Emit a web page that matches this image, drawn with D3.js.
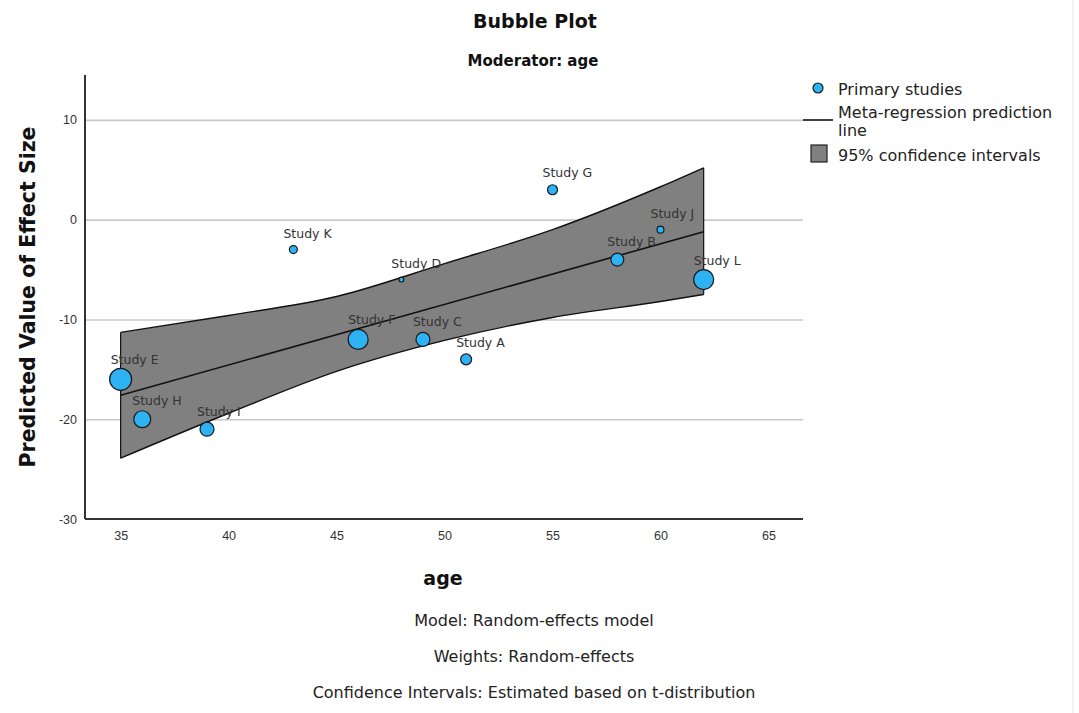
<!DOCTYPE html>
<html>
<head>
<meta charset="utf-8">
<script src="https://cdn.jsdelivr.net/npm/d3@7"></script>
<style>
	body { margin: 0; background: #fff; }
	svg { display: block; font-family: 'DejaVu Sans', sans-serif; }
</style>
</head>
<body>
<svg></svg>
<script>
// studies: age, effect size, weight (bubble area)
const studies = ['Study E', 'Study H', 'Study I', 'Study K', 'Study F', 'Study D', 'Study C', 'Study A', 'Study G', 'Study B', 'Study J', 'Study L'];
const ages = [35, 36, 39, 43, 46, 48, 49, 51, 55, 58, 60, 62];
const effects = [-16, -20, -21, -3, -12, -6, -12, -14, 3, -4, -1, -6];
const weights = [121, 72, 49, 16, 100, 6, 49, 30, 25, 42, 12, 100];

// meta-regression prediction line
const predAges = [35, 62];
const predValues = [-17.6, -1.2];

// 95% confidence band
const ciAges = [35, 40, 45, 50, 55, 60, 62];
const ciUpper = [-11.3, -9.6, -7.7, -4.4, -1.0, 3.3, 5.2];
const ciLower = [-23.9, -19.4, -15.2, -12.1, -9.8, -8.2, -7.5];

const xTicks = [35, 40, 45, 50, 55, 60, 65];
const yTicks = [-30, -20, -10, 0, 10];

const footNotes = ['Model: Random-effects model', 'Weights: Random-effects', 'Confidence Intervals: Estimated based on t-distribution'];

const svg = d3.select('svg')
	.attr('width', 1079)
	.attr('height', 713);

const width = +svg.attr('width'),
	height = +svg.attr('height');

const margin = { top: 75, right: 276, bottom: 194, left: 85 },
	innerWidth = width - margin.left - margin.right,
	innerHeight = height - margin.top - margin.bottom;

const data = studies.map((s, i) => ({ name: s, age: ages[i], effect: effects[i], weight: weights[i] }));
const band = ciAges.map((a, i) => ({ age: a, hi: ciUpper[i], lo: ciLower[i] }));
const pred = predAges.map((a, i) => ({ age: a, value: predValues[i] }));

const xScale = d3.scaleLinear()
	.domain([33.35, 66.6])
	.range([0, innerWidth]);

const yScale = d3.scaleLinear()
	.domain([-30, 14.5])
	.range([innerHeight, 0]);

const rScale = d3.scaleSqrt()
	.domain([0, d3.max(weights)])
	.range([0, 11]);

const g = svg.append('g')
	.attr('transform', `translate(${margin.left}, ${margin.top})`);

// gridlines + y labels
const yAxisG = g.append('g')
	.call(d3.axisLeft(yScale).tickValues(yTicks).tickFormat(d => String(d)).tickSize(-innerWidth).tickPadding(8));
yAxisG.select('.domain').remove();
yAxisG.selectAll('.tick line')
	.attr('stroke', '#c8c8c8')
	.attr('stroke-width', 1.6)
	.filter(d => d === -30).remove();
yAxisG.selectAll('.tick text')
	.attr('fill', '#333')
	.style('font-size', '12.5px');

const xAxisG = g.append('g')
	.attr('transform', `translate(0, ${innerHeight})`)
	.call(d3.axisBottom(xScale).tickValues(xTicks).tickSize(0).tickPadding(12));
xAxisG.select('.domain').remove();
xAxisG.selectAll('.tick text')
	.attr('fill', '#333')
	.style('font-size', '12.5px');

// confidence band
const area = d3.area()
	.x(d => xScale(d.age))
	.y0(d => yScale(d.lo))
	.y1(d => yScale(d.hi))
	.curve(d3.curveMonotoneX);

g.append('path')
	.attr('d', area(band))
	.attr('fill', '#808080')
	.attr('stroke', 'none');

const edge = key => d3.line()
	.x(d => xScale(d.age))
	.y(d => yScale(d[key]))
	.curve(d3.curveMonotoneX);

g.append('path').attr('d', edge('hi')(band))
	.attr('fill', 'none').attr('stroke', '#111').attr('stroke-width', 1.4);
g.append('path').attr('d', edge('lo')(band))
	.attr('fill', 'none').attr('stroke', '#111').attr('stroke-width', 1.4);
[band[0], band[band.length - 1]].forEach(d => {
	g.append('line')
		.attr('x1', xScale(d.age)).attr('x2', xScale(d.age))
		.attr('y1', yScale(d.hi)).attr('y2', yScale(d.lo))
		.attr('stroke', '#111').attr('stroke-width', 1.2);
});

// prediction line
g.append('path')
	.attr('d', d3.line().x(d => xScale(d.age)).y(d => yScale(d.value))(pred))
	.attr('fill', 'none')
	.attr('stroke', '#111')
	.attr('stroke-width', 1.6);

// axis lines
g.append('line')
	.attr('x1', 0).attr('x2', 0).attr('y1', 0).attr('y2', innerHeight)
	.attr('stroke', '#333').attr('stroke-width', 2);
g.append('line')
	.attr('x1', 0).attr('x2', innerWidth).attr('y1', innerHeight).attr('y2', innerHeight)
	.attr('stroke', '#333').attr('stroke-width', 2);

// bubbles
g.selectAll('circle.study')
	.data(data)
	.enter().append('circle')
	.attr('class', 'study')
	.attr('cx', d => xScale(d.age))
	.attr('cy', d => yScale(d.effect))
	.attr('r', d => rScale(d.weight))
	.attr('fill', '#2db2f4')
	.attr('stroke', '#1a1a1a')
	.attr('stroke-width', 1.2);

g.selectAll('text.label')
	.data(data)
	.enter().append('text')
	.attr('class', 'label')
	.attr('x', d => xScale(d.age) - 10)
	.attr('y', d => yScale(d.effect) - 10 - rScale(d.weight) / 2)
	.attr('fill', '#333')
	.style('font-size', '12.5px')
	.text(d => d.name);

// titles
svg.append('text')
	.attr('x', 535).attr('y', 28)
	.attr('text-anchor', 'middle')
	.style('font-size', '19px').style('font-weight', 'bold')
	.attr('fill', '#111')
	.text('Bubble Plot');

svg.append('text')
	.attr('x', 533).attr('y', 66)
	.attr('text-anchor', 'middle')
	.style('font-size', '15px').style('font-weight', 'bold')
	.attr('fill', '#111')
	.text('Moderator: age');

svg.append('text')
	.attr('transform', `translate(35, ${margin.top + innerHeight / 2}) rotate(-90)`)
	.attr('text-anchor', 'middle')
	.style('font-size', '20.5px').style('font-weight', 'bold')
	.attr('fill', '#111')
	.text('Predicted Value of Effect Size');

svg.append('text')
	.attr('x', 443).attr('y', 585)
	.attr('text-anchor', 'middle')
	.style('font-size', '19px').style('font-weight', 'bold')
	.attr('fill', '#111')
	.text('age');

svg.selectAll('text.foot')
	.data(footNotes)
	.enter().append('text')
	.attr('class', 'foot')
	.attr('x', 534)
	.attr('y', (d, i) => 626 + i * 36)
	.attr('text-anchor', 'middle')
	.style('font-size', '16px')
	.attr('fill', '#222')
	.text(d => d);

// legend
const lg = svg.append('g');
lg.append('circle')
	.attr('cx', 818).attr('cy', 88).attr('r', 5)
	.attr('fill', '#2db2f4').attr('stroke', '#1a1a1a').attr('stroke-width', 1.2);
lg.append('line')
	.attr('x1', 803).attr('x2', 833).attr('y1', 120).attr('y2', 120)
	.attr('stroke', '#111').attr('stroke-width', 1.6);
lg.append('rect')
	.attr('x', 811).attr('y', 145).attr('width', 16).attr('height', 17)
	.attr('fill', '#808080').attr('stroke', '#222').attr('stroke-width', 1.2);

const legendText = [['Primary studies', 95], ['Meta-regression prediction', 118], ['line', 136], ['95% confidence intervals', 161]];
lg.selectAll('text')
	.data(legendText)
	.enter().append('text')
	.attr('x', 838)
	.attr('y', d => d[1])
	.style('font-size', '16px')
	.attr('fill', '#222')
	.text(d => d[0]);

// faint frame edge on the right
svg.append('line')
	.attr('x1', 1073).attr('x2', 1073).attr('y1', 0).attr('y2', height)
	.attr('stroke', '#e6e6e6').attr('stroke-width', 1);
</script>
</body>
</html>
